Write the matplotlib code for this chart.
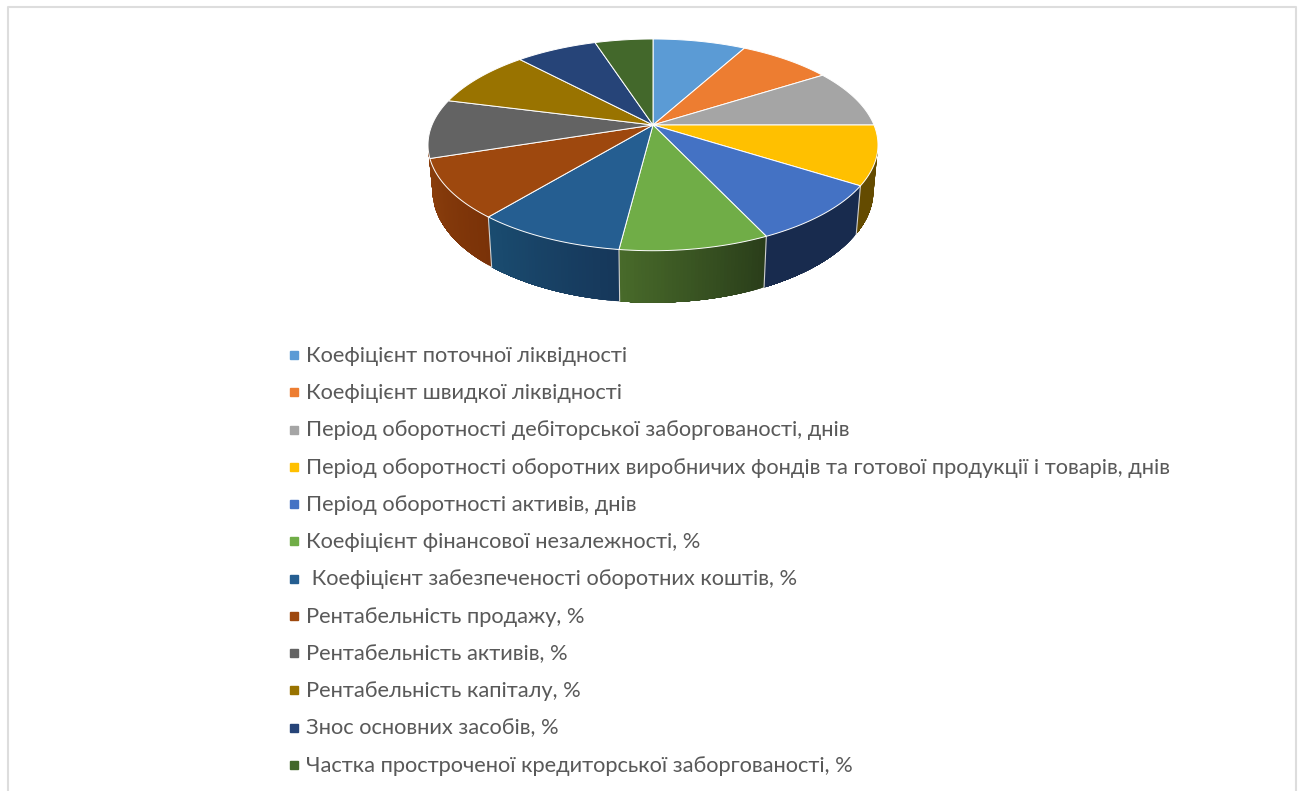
#!/usr/bin/env python3
import matplotlib
matplotlib.use("Agg")
import matplotlib.pyplot as plt
from matplotlib.colors import to_rgb
import numpy as np

labels = [
    "Коефіцієнт поточної ліквідності",
    "Коефіцієнт швидкої ліквідності",
    "Період оборотності дебіторської заборгованості, днів",
    "Період оборотності оборотних виробничих фондів та готової продукції і товарів, днів",
    "Період оборотності активів, днів",
    "Коефіцієнт фінансової незалежності, %",
    " Коефіцієнт забезпеченості оборотних коштів, %",
    "Рентабельність продажу, %",
    "Рентабельність активів, %",
    "Рентабельність капіталу, %",
    "Знос основних засобів, %",
    "Частка простроченої кредиторської заборгованості, %",
]
values = [8, 8, 9, 9, 9, 9, 9, 9, 9, 9, 7, 5]
colors = ["#5B9BD5", "#ED7D31", "#A5A5A5", "#FFC000", "#4472C4", "#70AD47",
          "#255E91", "#9E480E", "#636363", "#997300", "#264478", "#43682B"]
# side wall colours (right end, left end) for the slices that show one
wall_right = {3: "#644B00", 4: "#182B4E", 5: "#2A3E1A", 6: "#16375A", 7: "#7A3208", 8: "#8A3E0C"}
wall_left = {3: "#644B00", 4: "#182B4E", 5: "#486A2A", 6: "#1A4C70", 7: "#8A3E0C", 8: "#8A3E0C"}

# perspective of the pie, in pixels
cx, cy = 653, 125
r, a, c = 221, -78.7, 0.1875


def top_xy(t):
    u, v = np.sin(t), np.cos(t)
    w = 1 + c * v
    return cx + r * u / w, (cy + a * v) / w


def bottom_xy(t):
    x, y = top_xy(t)
    return cx + (x - cx) * 0.98, 233 + 1.06 * (y - 185)


fig = plt.figure(figsize=(13.01, 7.91), dpi=100)
ax = fig.add_axes([0, 0, 1, 1])
ax.set_xlim(0, 1301)
ax.set_ylim(791, 0)
ax.axis("off")

# frame, open at the bottom
ax.plot([8, 8, 1296, 1296], [791, 7, 7, 791], color="#DDDDDD", lw=1.5)

edges = np.radians(np.cumsum([0] + values) / sum(values) * 360)
tan_right = np.pi / 2 + np.arcsin(c)
tan_left = 1.5 * np.pi - np.arcsin(c)

# side walls, each strip painted over the rest of the slice so no seams show
for i in wall_right:
    t0 = max(edges[i], tan_right)
    t1 = min(edges[i + 1], tan_left)
    ts = np.linspace(t0, t1, 41)
    c0, c1 = np.array(to_rgb(wall_right[i])), np.array(to_rgb(wall_left[i]))
    for k in range(40):
        tt = ts[k:]
        xt, yt = top_xy(tt)
        xb, yb = bottom_xy(tt)
        col = c0 + (c1 - c0) * (k / 39)
        ax.fill(np.r_[xt, xb[::-1]], np.r_[yt, yb[::-1]], color=col, lw=0, zorder=2)
    if 3 < i < 8:
        xt, yt = top_xy(edges[i])
        xb, yb = bottom_xy(edges[i])
        ax.plot([xt, xb], [yt, yb], color="#D0D0D0", lw=0.8, zorder=3)

# top of the pie
for i in range(len(values)):
    ts = np.linspace(edges[i], edges[i + 1], 60)
    x, y = top_xy(ts)
    ax.fill(np.r_[cx, x], np.r_[cy, y], facecolor=colors[i], edgecolor="white", lw=0.7, zorder=4)

# legend
for i, lab in enumerate(labels):
    y = 355 + i * 37.27
    ax.plot([294], [y], marker="s", ms=6, color=colors[i], ls="none")
    ax.text(306, y + 0.7, lab, fontsize=15.75, color="#595959", va="center", ha="left",
            family=["Lato", "Open Sans", "DejaVu Sans"])

fig.savefig("out.png", dpi=100)
